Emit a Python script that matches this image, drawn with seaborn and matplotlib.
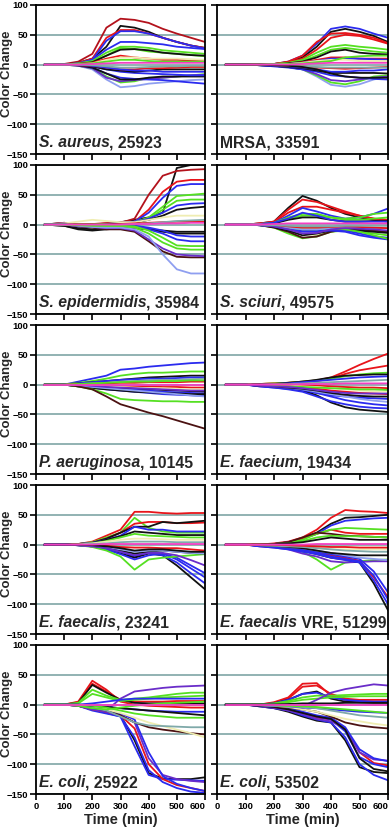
import pandas as pd
import seaborn as sns
import matplotlib.pyplot as plt
from matplotlib.offsetbox import TextArea, HPacker, AnchoredOffsetbox

# sampling times (min), shared by every trace
TIME = [30, 100, 150, 200, 250, 300, 350, 400, 450, 500, 550, 600]

# colour codes used in the traces
PALETTE = {
    'r': '#e8141a', 'dr': '#b3121c', 'k': '#111111', 'b': '#2b2bef',
    'g': '#55e022', 'pw': '#8f9ff0', 'p': '#f23fc3', 'y': '#efedb2',
    'br': '#4b1212', 'pu': '#6a2dc9', 't': '#7fa9a9',
}

# S. aureus, 25923
aureus_vals = [
    [0, 1, 5, 18, 62, 77, 75, 70, 60, 52, 45, 38],
    [0, 0, 3, 10, 30, 65, 62, 55, 45, 38, 32, 28],
    [0, 0, 3, 10, 45, 58, 58, 52, 45, 38, 32, 28],
    [0, 0, 2, 8, 40, 56, 56, 52, 45, 38, 32, 27],
    [0, 0, 2, 8, 25, 38, 38, 36, 34, 30, 28, 26],
    [0, 0, 2, 6, 20, 30, 30, 28, 24, 22, 20, 18],
    [0, 0, 1, 5, 15, 28, 26, 22, 20, 18, 16, 14],
    [0, 0, 1, 4, 15, 25, 26, 24, 20, 18, 16, 15],
    [0, 0, 1, 3, 10, 15, 12, 10, 8, 8, 7, 6],
    [0, 0, 1, 2, 8, 12, 12, 10, 10, 10, 9, 8],
    [0, 0, -2, -8, -25, -38, -36, -32, -30, -28, -26, -25],
    [0, 0, -2, -6, -20, -30, -28, -22, -22, -20, -18, -16],
    [0, 0, -2, -6, -22, -28, -26, -24, -22, -20, -18, -17],
    [0, 0, -1, -5, -15, -22, -24, -25, -26, -28, -30, -32],
    [0, 0, -1, -5, -15, -25, -25, -22, -20, -20, -20, -20],
    [0, 0, -1, -3, -8, -12, -14, -15, -16, -17, -18, -18],
    [0, 0, -1, -3, -8, -10, -12, -10, -8, -8, -8, -8],
    [0, 0, -1, -2, -5, -8, -8, -6, -6, -5, -4, -4],
    [0, 0, 0, -2, -5, -8, -10, -10, -12, -12, -12, -12],
    [0, 0, 1, 2, 5, 8, 8, 6, 5, 5, 5, 5],
    [0, 0, 0, -1, -3, -5, -5, -4, -3, -3, -2, -2],
    [0, 0, 0, 1, 2, 3, 3, 3, 3, 3, 3, 3],
]
aureus_cols = ['dr', 'k', 'r', 'b', 'b', 'g', 'g', 'k', 'r', 'y', 'pw', 'g',
               'pu', 'b', 'k', 'b', 'k', 'r', 'b', 'g', 't', 'p']

# MRSA, 33591
mrsa_vals = [
    [0, 0, 0, 1, 5, 15, 35, 60, 64, 60, 52, 45],
    [0, 0, 0, 1, 4, 12, 30, 55, 60, 55, 48, 38],
    [0, 0, 0, 1, 5, 15, 38, 52, 53, 50, 45, 36],
    [0, 0, 0, 1, 4, 10, 25, 45, 50, 48, 42, 35],
    [0, 0, 0, 1, 3, 8, 20, 30, 33, 30, 28, 25],
    [0, 0, 0, 0, 2, 6, 15, 25, 28, 25, 22, 20],
    [0, 0, 0, 0, 2, 5, 12, 22, 25, 20, 18, 17],
    [0, 0, 0, 0, 1, 4, 8, 12, 12, 10, 10, 10],
    [0, 0, 0, 0, 1, 3, 6, 10, 10, 10, 9, 8],
    [0, 0, 0, 0, 1, 3, 6, 8, 8, 6, 6, 6],
    [0, 0, -1, -2, -4, -8, -20, -34, -37, -33, -25, -20],
    [0, 0, -1, -2, -4, -8, -18, -30, -33, -28, -20, -18],
    [0, 0, -1, -2, -4, -8, -16, -26, -28, -25, -22, -20],
    [0, 0, -1, -3, -5, -8, -12, -18, -20, -22, -24, -25],
    [0, 0, -1, -2, -4, -6, -10, -14, -14, -14, -14, -15],
    [0, 0, -1, -2, -3, -5, -8, -12, -12, -10, -10, -8],
    [0, 0, 0, -1, -2, -3, -5, -6, -7, -6, -5, -4],
    [0, 0, 0, -1, -2, -3, -4, -5, -5, -5, -5, -5],
    [0, 0, 0, 0, 1, 2, 4, 6, 12, 14, 15, 15],
    [0, 0, 0, -1, -2, -4, -8, -15, -20, -22, -22, -22],
    [0, 0, 0, 0, 0, 1, 2, 3, 3, 3, 3, 3],
]
mrsa_cols = ['b', 'k', 'r', 'r', 'g', 'g', 'k', 'r', 'b', 'y', 'pw', 'g',
             'pu', 'b', 'k', 'b', 'r', 't', 'g', 'k', 'p']

# S. epidermidis, 35984
epider_vals = [
    [0, 3, 0, 0, 2, 4, 8, 12, 20, 95, 100, 100],
    [0, 3, 0, 1, 2, 3, 10, 50, 82, 90, 92, 93],
    [0, 2, 0, 1, 2, 3, 5, 25, 55, 72, 75, 75],
    [0, 2, 0, 0, 1, 3, 5, 20, 45, 65, 68, 68],
    [0, 1, 0, 0, 1, 2, 4, 12, 30, 48, 50, 52],
    [0, 1, 0, 0, 1, 2, 3, 10, 25, 40, 42, 42],
    [0, 1, -1, -1, 0, 2, 4, 10, 20, 32, 35, 36],
    [0, 1, -2, -3, -1, 1, 3, 8, 15, 25, 28, 30],
    [0, 2, 5, 8, 6, 4, 4, 8, 12, 15, 15, 15],
    [0, 1, 0, 0, 0, 1, 2, 3, 4, 5, 5, 5],
    [0, 1, -1, -2, -1, 0, 1, 2, 4, 6, 7, 8],
    [0, -2, -8, -10, -8, -6, -6, -8, -10, -12, -12, -12],
    [0, -2, -6, -8, -6, -5, -5, -8, -12, -15, -15, -15],
    [0, 0, -3, -4, -3, -2, -2, -5, -10, -18, -20, -20],
    [0, 0, -2, -3, -2, -2, -3, -8, -15, -25, -28, -28],
    [0, 0, -2, -4, -4, -3, -5, -15, -30, -40, -42, -42],
    [0, 0, -3, -5, -8, -8, -12, -28, -45, -54, -55, -55],
    [0, 0, -2, -4, -6, -6, -10, -25, -40, -50, -52, -53],
    [0, 0, -2, -4, -5, -5, -8, -20, -50, -75, -82, -82],
    [0, 0, -1, -2, -2, -2, -3, -10, -22, -35, -36, -36],
    [0, 0, 0, 0, 0, 0, 1, 1, 2, 2, 3, 3],
]
epider_cols = ['k', 'dr', 'r', 'b', 'g', 'g', 'b', 'k', 'y', 'r', 't', 'k',
               'k', 'b', 'b', 'g', 'br', 'pu', 'pw', 'g', 'p']

# S. sciuri, 49575
sciuri_vals = [
    [0, 0, 2, 5, 28, 48, 40, 28, 18, 12, 8, 5],
    [0, 0, 2, 5, 25, 42, 38, 30, 22, 15, 10, 5],
    [0, 0, 2, 4, 20, 30, 30, 25, 20, 15, 10, 8],
    [0, 0, 1, 3, 15, 28, 22, 15, 10, 12, 18, 27],
    [0, 0, 1, 3, 12, 18, 18, 12, 10, 12, 18, 20],
    [0, 0, 1, 2, 10, 15, 15, 12, 8, 8, 10, 12],
    [0, 0, 0, 2, 8, 12, 12, 8, 5, 5, 6, 6],
    [0, 0, 1, 3, 10, 20, 15, 8, 5, 5, 5, 5],
    [0, 0, 0, -2, -8, -15, -18, -12, -8, -5, -5, -5],
    [0, 0, -1, -5, -15, -23, -20, -12, -10, -12, -15, -18],
    [0, 0, -1, -5, -12, -22, -20, -12, -8, -8, -10, -12],
    [0, 0, -1, -4, -10, -18, -15, -10, -8, -10, -12, -14],
    [0, 0, -1, -3, -8, -12, -12, -10, -12, -18, -22, -25],
    [0, 0, -1, -2, -6, -10, -10, -8, -10, -15, -20, -22],
    [0, 0, -1, -2, -5, -8, -8, -6, -8, -12, -18, -24],
    [0, 0, 0, -2, -5, -8, -8, -6, -5, -5, -6, -6],
    [0, 0, 0, -1, -3, -5, -5, -4, -3, -4, -5, -6],
    [0, 0, -1, -3, -8, -15, -14, -8, -6, -7, -8, -10],
    [0, 0, 0, -1, -2, -3, -3, -3, -2, -2, -2, -2],
    [0, 0, 0, 1, 2, 2, 2, 2, 2, 2, 2, 2],
]
sciuri_cols = ['k', 'r', 'r', 'b', 'g', 'g', 'k', 'b', 'y', 'g', 'br', 'k',
               'b', 'b', 'g', 'pw', 'r', 'pu', 't', 'p']

# P. aeruginosa, 10145
aerug_vals = [
    [0, 0, 5, 10, 15, 25, 27, 30, 32, 34, 36, 37],
    [0, 0, 3, 6, 10, 15, 18, 20, 20, 21, 22, 22],
    [0, 0, 2, 4, 6, 8, 10, 12, 13, 14, 15, 15],
    [0, 0, 2, 4, 6, 8, 9, 10, 10, 11, 12, 12],
    [0, 0, 1, 2, 3, 5, 6, 7, 8, 8, 9, 10],
    [0, 0, 1, 1, 2, 3, 3, 4, 4, 4, 5, 5],
    [0, 0, 0, 0, -1, -2, -3, -3, -4, -4, -5, -5],
    [0, 0, -1, -2, -3, -4, -5, -6, -6, -7, -8, -8],
    [0, 0, -2, -4, -5, -6, -7, -8, -9, -10, -11, -12],
    [0, 0, -2, -4, -6, -8, -9, -10, -12, -13, -14, -15],
    [0, 0, -3, -5, -8, -10, -12, -14, -16, -17, -18, -19],
    [0, 0, -3, -6, -8, -10, -12, -13, -14, -15, -16, -16],
    [0, 0, -2, -4, -6, -8, -10, -12, -14, -16, -18, -20],
    [0, 0, -3, -8, -15, -24, -26, -27, -28, -28, -29, -29],
    [0, 0, -3, -8, -20, -33, -40, -47, -53, -60, -67, -74],
    [0, 0, -1, -2, -4, -5, -6, -7, -8, -9, -10, -10],
    [0, 0, 1, 2, 3, 4, 5, 5, 6, 6, 7, 7],
    [0, 0, 0, 0, 0, 0, 0, 0, 0, 0, 0, 0],
]
aerug_cols = ['b', 'g', 'k', 'b', 't', 'r', 'r', 'y', 'k', 'b', 'b', 'k',
              'pw', 'g', 'br', 'pu', 'g', 'p']

# E. faecium, 19434
faecium_vals = [
    [0, 0, 1, 2, 3, 5, 7, 12, 22, 33, 43, 52],
    [0, 0, 1, 2, 3, 4, 6, 10, 18, 24, 28, 32],
    [0, 0, 1, 2, 3, 5, 7, 10, 14, 17, 19, 20],
    [0, 0, 1, 1, 3, 5, 8, 12, 15, 16, 17, 17],
    [0, 0, 0, 1, 2, 4, 6, 8, 10, 12, 13, 14],
    [0, 0, 0, 1, 1, 2, 3, 4, 5, 6, 7, 8],
    [0, 0, 0, 0, 0, -1, -2, -3, -4, -5, -5, -6],
    [0, 0, -1, -1, -2, -3, -4, -6, -8, -10, -11, -12],
    [0, 0, -3, -5, -7, -10, -14, -18, -20, -22, -23, -24],
    [0, 0, -2, -4, -6, -10, -18, -30, -38, -42, -44, -46],
    [0, 0, -3, -5, -8, -12, -20, -28, -33, -37, -39, -40],
    [0, 0, -2, -4, -6, -9, -14, -20, -26, -30, -33, -35],
    [0, 0, -1, -3, -5, -8, -12, -16, -20, -24, -27, -29],
    [0, 0, -2, -3, -5, -7, -10, -14, -17, -19, -20, -20],
    [0, 0, -1, -2, -3, -5, -7, -10, -12, -14, -15, -16],
    [0, 0, -1, -2, -3, -4, -5, -6, -7, -8, -8, -9],
    [0, 0, -2, -3, -4, -6, -9, -12, -14, -15, -15, -15],
    [0, 0, 0, 0, 0, 1, 1, 1, 2, 2, 2, 2],
]
faecium_cols = ['r', 'r', 'g', 'k', 'b', 't', 'r', 'y', 'b', 'k', 'b', 'b',
                'pw', 'k', 'r', 'g', 'pu', 'p']

# E. faecalis, 23241
faecalis_vals = [
    [0, 0, 1, 5, 15, 25, 55, 55, 53, 52, 53, 53],
    [0, 0, 1, 4, 12, 20, 45, 28, 22, 20, 20, 20],
    [0, 0, 1, 3, 10, 20, 35, 38, 38, 36, 36, 37],
    [0, 0, 1, 3, 10, 20, 30, 30, 38, 36, 38, 40],
    [0, 0, 1, 3, 8, 15, 30, 25, 25, 22, 22, 22],
    [0, 0, 1, 2, 8, 14, 22, 20, 18, 16, 16, 16],
    [0, 0, 1, 2, 6, 12, 18, 15, 14, 13, 12, 12],
    [0, 0, 1, 2, 5, 8, 10, 10, 9, 8, 8, 8],
    [0, 0, 0, 1, 2, 4, 5, 5, 5, 4, 4, 4],
    [0, 0, 0, -1, -2, -4, -5, -5, -6, -6, -8, -10],
    [0, 0, -1, -3, -6, -12, -20, -14, -15, -25, -40, -55],
    [0, 0, -1, -3, -8, -15, -22, -15, -18, -35, -55, -75],
    [0, 0, -1, -2, -6, -12, -18, -14, -18, -30, -48, -65],
    [0, 0, -1, -3, -8, -16, -25, -18, -15, -22, -35, -48],
    [0, 0, -1, -4, -10, -20, -42, -25, -22, -20, -18, -16],
    [0, 0, -1, -2, -5, -10, -15, -12, -10, -12, -14, -15],
    [0, 0, -1, -2, -4, -8, -12, -10, -10, -12, -14, -15],
    [0, 0, -1, -3, -6, -12, -18, -14, -14, -18, -26, -35],
    [0, 0, 0, -1, -3, -6, -10, -8, -8, -10, -12, -12],
    [0, 0, 0, 0, 1, 1, 1, 1, 1, 1, 1, 1],
]
faecalis_cols = ['r', 'g', 'r', 'k', 'b', 'k', 'g', 'y', 't', 'r', 'b', 'k',
                 'b', 'b', 'g', 'k', 'pw', 'pu', 'k', 'p']

# E. faecalis VRE, 51299
vre_vals = [
    [0, 0, 0, 2, 5, 12, 25, 45, 58, 56, 55, 53],
    [0, 0, 0, 1, 4, 10, 20, 35, 45, 46, 48, 50],
    [0, 0, 0, 1, 4, 10, 18, 32, 40, 42, 44, 45],
    [0, 0, 0, 1, 4, 10, 18, 25, 20, 18, 18, 18],
    [0, 0, 0, 1, 3, 8, 18, 25, 28, 27, 26, 25],
    [0, 0, 0, 1, 4, 12, 20, 18, 15, 14, 13, 12],
    [0, 0, 0, 1, 2, 6, 12, 15, 14, 14, 13, 12],
    [0, 0, 0, 1, 2, 4, 8, 12, 10, 8, 8, 8],
    [0, 0, -1, -2, -3, -5, -6, -8, -8, -8, -8, -8],
    [0, 0, -1, -2, -4, -12, -25, -42, -30, -28, -26, -25],
    [0, 0, -3, -5, -8, -15, -20, -28, -30, -29, -28, -28],
    [0, 0, -2, -4, -6, -10, -16, -22, -25, -30, -65, -110],
    [0, 0, -1, -2, -4, -8, -12, -18, -22, -27, -55, -88],
    [0, 0, -3, -5, -8, -12, -16, -22, -26, -30, -60, -100],
    [0, 0, -2, -4, -6, -10, -14, -20, -24, -28, -52, -92],
    [0, 0, -2, -3, -5, -8, -12, -16, -20, -24, -45, -80],
    [0, 0, -1, -2, -4, -6, -10, -14, -18, -22, -24, -26],
    [0, 0, -1, -2, -4, -6, -10, -14, -16, -18, -18, -18],
    [0, 0, -1, -2, -3, -4, -6, -8, -10, -11, -12, -12],
    [0, 0, 0, 0, -1, -2, -3, -4, -4, -5, -5, -5],
    [0, 0, 0, 0, 0, 0, 1, 1, 1, 1, 1, 1],
]
vre_cols = ['r', 'k', 'b', 'r', 'g', 'br', 'g', 'k', 'y', 'g', 'pu', 'k',
            'r', 'b', 'b', 'b', 'pw', 'k', 't', 'r', 'p']

# E. coli, 25922
coli1_vals = [
    [0, 0, 5, 40, 25, 5, 0, -2, -3, -4, -5, -5],
    [0, 0, 4, 35, 22, 8, 5, 5, 5, 6, 6, 6],
    [0, 0, 3, 33, 20, 8, 3, 2, 2, 2, 2, 2],
    [0, 0, 3, 25, 15, 8, 10, 12, 15, 18, 20, 20],
    [0, 0, 2, 18, 12, 6, 8, 10, 12, 13, 14, 15],
    [0, 0, 0, -5, -10, 10, 22, 25, 28, 30, 31, 32],
    [0, 0, -2, -8, -12, -18, -60, -115, -124, -125, -125, -122],
    [0, 0, -2, -10, -15, -20, -70, -118, -125, -126, -127, -128],
    [0, 0, -2, -8, -14, -20, -55, -110, -130, -140, -146, -148],
    [0, 0, -2, -8, -12, -18, -40, -100, -125, -135, -140, -145],
    [0, 0, -2, -8, -12, -18, -30, -90, -118, -125, -128, -130],
    [0, 0, -1, -6, -10, -15, -25, -80, -120, -133, -140, -145],
    [0, 0, -1, -5, -10, -18, -30, -38, -42, -45, -48, -50],
    [0, 0, -1, -3, -8, -14, -22, -30, -36, -42, -48, -55],
    [0, 0, -1, -5, -10, -20, -30, -35, -36, -37, -38, -38],
    [0, 0, -1, -2, -4, -6, -8, -10, -11, -12, -12, -12],
    [0, 0, 0, -2, -4, -6, -8, -10, -12, -14, -16, -18],
    [0, 0, -2, -6, -8, -5, -2, 0, 2, 3, 4, 5],
    [0, 0, 0, 2, 5, 8, 10, 10, 10, 10, 10, 10],
    [0, 0, 0, -2, -5, -10, -15, -18, -20, -22, -22, -22],
    [0, 0, 0, 0, 0, 0, 0, 0, 0, 0, 0, 0],
]
coli1_cols = ['r', 'r', 'k', 'g', 'g', 'pu', 'k', 'b', 'b', 'r', 'pu', 'b',
              'br', 'y', 't', 'b', 'k', 'g', 'b', 'g', 'p']

# E. coli, 53502
coli2_vals = [
    [0, 0, 0, 4, 12, 35, 36, 15, 8, 6, 5, 5],
    [0, 0, 0, 3, 10, 30, 32, 18, 10, 8, 8, 8],
    [0, 0, 0, 2, 8, 18, 22, 10, 5, 4, 3, 3],
    [0, 0, 0, 2, 8, 18, 20, 12, 8, 6, 5, 5],
    [0, 0, 0, 2, 6, 12, 15, 15, 16, 17, 18, 18],
    [0, 0, 0, 1, 4, 8, 10, 12, 13, 14, 14, 14],
    [0, 0, 0, 0, -2, -3, 8, 20, 26, 30, 34, 32],
    [0, 0, -3, -6, -12, -20, -27, -30, -60, -105, -113, -115],
    [0, 0, -3, -6, -10, -18, -25, -30, -55, -100, -118, -127],
    [0, 0, -2, -5, -8, -14, -22, -25, -40, -80, -98, -102],
    [0, 0, -2, -5, -8, -14, -20, -25, -45, -88, -100, -105],
    [0, 0, -2, -5, -10, -16, -24, -28, -40, -80, -92, -94],
    [0, 0, -1, -4, -6, -12, -18, -22, -38, -75, -90, -95],
    [0, 0, -2, -4, -8, -14, -20, -24, -42, -90, -108, -112],
    [0, 0, -1, -3, -5, -8, -12, -20, -30, -35, -38, -40],
    [0, 0, -1, -2, -4, -8, -12, -18, -24, -28, -32, -35],
    [0, 0, -1, -2, -3, -5, -6, -8, -10, -12, -13, -14],
    [0, 0, -1, -2, -3, -4, -6, -10, -14, -18, -20, -22],
    [0, 0, 0, -1, -2, -3, -4, -6, -8, -10, -12, -14],
    [0, 0, 0, 0, 1, 2, 2, 2, 3, 3, 3, 3],
    [0, 0, 0, 0, 0, 0, 0, 0, 0, 0, 0, 0],
]
coli2_cols = ['r', 'r', 'k', 'b', 'g', 'g', 'pu', 'k', 'b', 'r', 'b', 'pu',
              'b', 'k', 'br', 'y', 'b', 't', 'g', 'k', 'p']

# (italic part, plain part, values, colours), row by row
PANELS = [
    ('S. aureus', ', 25923', aureus_vals, aureus_cols),
    ('', 'MRSA, 33591', mrsa_vals, mrsa_cols),
    ('S. epidermidis', ', 35984', epider_vals, epider_cols),
    ('S. sciuri', ', 49575', sciuri_vals, sciuri_cols),
    ('P. aeruginosa', ', 10145', aerug_vals, aerug_cols),
    ('E. faecium', ', 19434', faecium_vals, faecium_cols),
    ('E. faecalis', ', 23241', faecalis_vals, faecalis_cols),
    ('E. faecalis', ' VRE, 51299', vre_vals, vre_cols),
    ('E. coli', ', 25922', coli1_vals, coli1_cols),
    ('E. coli', ', 53502', coli2_vals, coli2_cols),
]

YTICKS = [-150, -100, -50, 0, 50, 100]
XTICKS = [0, 100, 200, 300, 400, 500, 600]

sns.set_style('ticks')
plt.rcParams['font.family'] = ['Liberation Sans', 'DejaVu Sans']
plt.rcParams['font.weight'] = 'bold'

fig = plt.figure(figsize=(3.92, 8.30), dpi=100)
W, H = 392.0, 830.0
col_x = [(36, 169), (217, 171)]   # pixel left, width

for i, (ital, plain, vals, cols) in enumerate(PANELS):
    row, col = divmod(i, 2)
    top = 5 + 160 * row
    x0, w = col_x[col]
    ax = fig.add_axes([x0 / W, 1 - (top + 149) / H, w / W, 149 / H])

    # long table for seaborn
    recs = []
    for j, v in enumerate(vals):
        for t, y in zip(TIME, v):
            recs.append({'t': t, 'v': y, 'line': j})
    df = pd.DataFrame(recs)
    pal = {j: PALETTE[c] for j, c in enumerate(cols)}
    order = sorted(range(len(vals)), key=lambda j: cols[j] == 'p')
    sns.lineplot(data=df, x='t', y='v', hue='line', hue_order=order,
                 palette=pal, legend=False, estimator=None, sort=False,
                 linewidth=1.3, ax=ax)

    ax.set_xlim(0, 600)
    ax.set_ylim(-150, 100)
    ax.set_yticks(YTICKS)
    ax.set_xticks(XTICKS)
    ax.yaxis.grid(True, color='#7fa5a5', linewidth=1.2)
    ax.set_axisbelow(True)
    for s in ax.spines.values():
        s.set_linewidth(1.3)
        s.set_color('black')
    ax.tick_params(direction='out', length=4, width=1.2, labelsize=6.8,
                   pad=1.5, colors='black')
    ax.tick_params(labelleft=(col == 0), labelbottom=(row == 4))
    if row == 4:
        # last tick label sits just left of the tick, as in the original
        ax.get_xticklabels()[-1].set_horizontalalignment('right')

    if col == 0:
        ax.set_ylabel('Color Change', fontsize=9.5, fontweight='bold')
        ax.yaxis.set_label_coords(-0.135, 0.54)
    else:
        ax.set_ylabel('')
    if row == 4:
        ax.set_xlabel('Time (min)', fontsize=10.5, fontweight='bold', labelpad=2)
    else:
        ax.set_xlabel('')

    # panel label, italic species name followed by plain text
    parts = []
    if ital:
        parts.append(TextArea(ital, textprops=dict(fontsize=11.3, fontweight='bold',
                                                   fontstyle='italic')))
    parts.append(TextArea(plain, textprops=dict(fontsize=11.3, fontweight='bold')))
    box = HPacker(children=parts, align='baseline', pad=0, sep=0)
    anc = AnchoredOffsetbox(loc='lower left', child=box, frameon=False, pad=0,
                            borderpad=0, bbox_to_anchor=(0.015, 0.025),
                            bbox_transform=ax.transAxes)
    ax.add_artist(anc)

fig.savefig('out.png', dpi=100)
